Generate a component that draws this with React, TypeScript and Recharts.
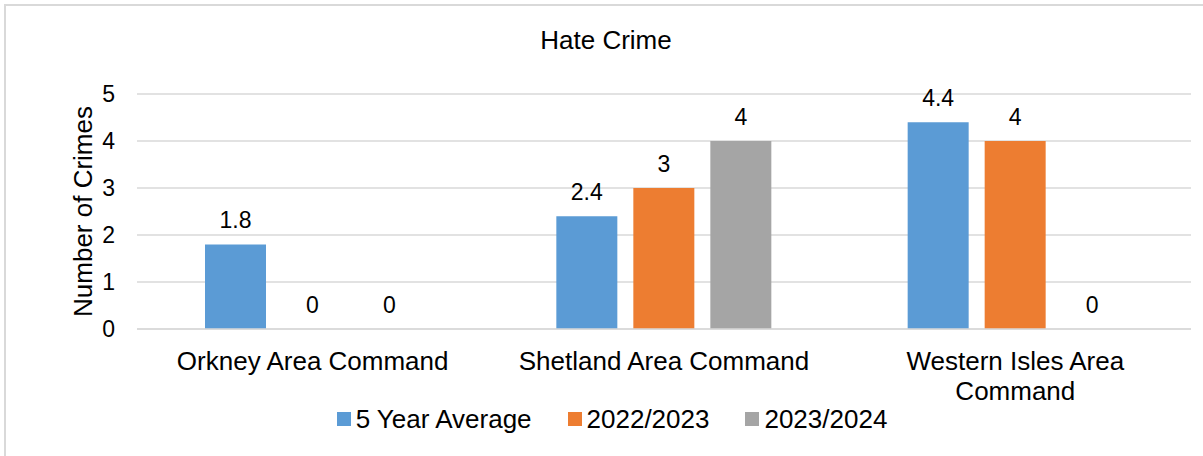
import React from 'react';
import {
  BarChart,
  Bar,
  XAxis,
  YAxis,
  CartesianGrid,
  Legend,
  Rectangle,
} from 'recharts';

const categories = ['Orkney Area Command', 'Shetland Area Command', 'Western Isles Area Command'];
const seriesNames = ['5 Year Average', '2022/2023', '2023/2024'];
const fiveYearAverage = [1.8, 2.4, 4.4];
const year2022 = [0, 3, 4];
const year2023 = [0, 4, 0];
const yTicks = [0, 1, 2, 3, 4, 5];

const colors = ['#5B9BD5', '#ED7D31', '#A5A5A5'];
const FONT = '"Liberation Sans", Arial, sans-serif';

const data = categories.map((category, i) => ({
  category,
  avg: fiveYearAverage[i],
  y2022: year2022[i],
  y2023: year2023[i],
}));

// wrap a label into lines of at most `max` characters
const wrap = (s: string, max = 22) => {
  const lines: string[] = [];
  let cur = '';
  for (const w of s.split(' ')) {
    const next = cur ? cur + ' ' + w : w;
    if (next.length > max && cur) {
      lines.push(cur);
      cur = w;
    } else cur = next;
  }
  if (cur) lines.push(cur);
  return lines;
};

const CategoryTick = (props: any) => {
  const { x, y, payload } = props;
  const lines = wrap(String(payload.value));
  return (
    <text x={x} y={y} textAnchor="middle" fontSize={26} fontFamily={FONT} fill="#000">
      {lines.map((l, i) => (
        <tspan key={i} x={x} dy={i === 0 ? 18.5 : 30}>
          {l}
        </tspan>
      ))}
    </text>
  );
};

const YLabel = (props: any) => {
  const { viewBox } = props;
  const cx = viewBox.x + 92;
  const cy = viewBox.y + viewBox.height / 2;
  return (
    <text
      x={cx}
      y={cy}
      transform={`rotate(-90, ${cx}, ${cy})`}
      textAnchor="middle"
      fontSize={26}
      fontFamily={FONT}
      fill="#000"
    >
      Number of Crimes
    </text>
  );
};

// draws the bar plus its value label, so zero bars still get a "0"
const makeShape = (key: string) => (props: any) => {
  const { x, y, width, height, fill, payload } = props;
  const v = payload[key];
  return (
    <g>
      {height > 0 && <Rectangle x={x} y={y} width={width} height={height} fill={fill} />}
      <text
        x={x + width / 2}
        y={y - 16}
        textAnchor="middle"
        fontSize={23}
        fontFamily={FONT}
        fill="#000"
      >
        {v}
      </text>
    </g>
  );
};

const LegendContent = () => (
  <div
    style={{
      display: 'flex',
      justifyContent: 'center',
      alignItems: 'center',
      height: 40,
      paddingLeft: 33,
      fontFamily: FONT,
      fontSize: 26,
      color: '#000',
    }}
  >
    {seriesNames.map((name, i) => (
      <div key={name} style={{ display: 'flex', alignItems: 'center', marginRight: i < 2 ? 36 : 0 }}>
        <span style={{ width: 14, height: 14, background: colors[i], marginRight: 5, display: 'inline-block' }} />
        <span>{name}</span>
      </div>
    ))}
  </div>
);

export default function App() {
  return (
    <div
      style={{
        position: 'absolute',
        left: 0,
        top: 0,
        width: 1203,
        height: 456,
        overflow: 'hidden',
        background: '#fff',
      }}
    >
      <div
        style={{
          position: 'absolute',
          left: 4,
          top: 4,
          width: 1220,
          height: 470,
          borderLeft: '2px solid #d9d9d9',
          borderTop: '2px solid #d9d9d9',
        }}
      />
      <div
        style={{
          position: 'absolute',
          left: 0,
          top: 25,
          width: 1203,
          paddingLeft: 9,
          boxSizing: 'border-box',
          textAlign: 'center',
          fontFamily: FONT,
          fontSize: 26,
          color: '#000',
        }}
      >
        Hate Crime
      </div>
      <div style={{ position: 'absolute', left: 0, top: 0 }}>
        <BarChart
          width={1203}
          height={456}
          data={data}
          margin={{ top: 94, right: 12, bottom: 17, left: 0 }}
          barSize={61}
          barGap={16}
        >
          <CartesianGrid vertical={false} stroke="#d9d9d9" strokeWidth={1.5} />
          <XAxis
            dataKey="category"
            height={70}
            tick={<CategoryTick />}
            tickLine={false}
            tickSize={0}
            tickMargin={22}
            axisLine={{ stroke: '#d9d9d9', strokeWidth: 1.5 }}
            interval={0}
          />
          <YAxis
            width={137}
            domain={[0, 5]}
            ticks={yTicks}
            tickLine={false}
            tickSize={0}
            tickMargin={22}
            axisLine={false}
            tick={{ fontSize: 23, fill: '#000', fontFamily: FONT }}
            label={<YLabel />}
          />
          <Legend verticalAlign="bottom" height={40} content={<LegendContent />} />
          <Bar dataKey="avg" name={seriesNames[0]} fill={colors[0]} shape={makeShape('avg')} isAnimationActive={false} />
          <Bar dataKey="y2022" name={seriesNames[1]} fill={colors[1]} shape={makeShape('y2022')} isAnimationActive={false} />
          <Bar dataKey="y2023" name={seriesNames[2]} fill={colors[2]} shape={makeShape('y2023')} isAnimationActive={false} />
        </BarChart>
      </div>
    </div>
  );
}
